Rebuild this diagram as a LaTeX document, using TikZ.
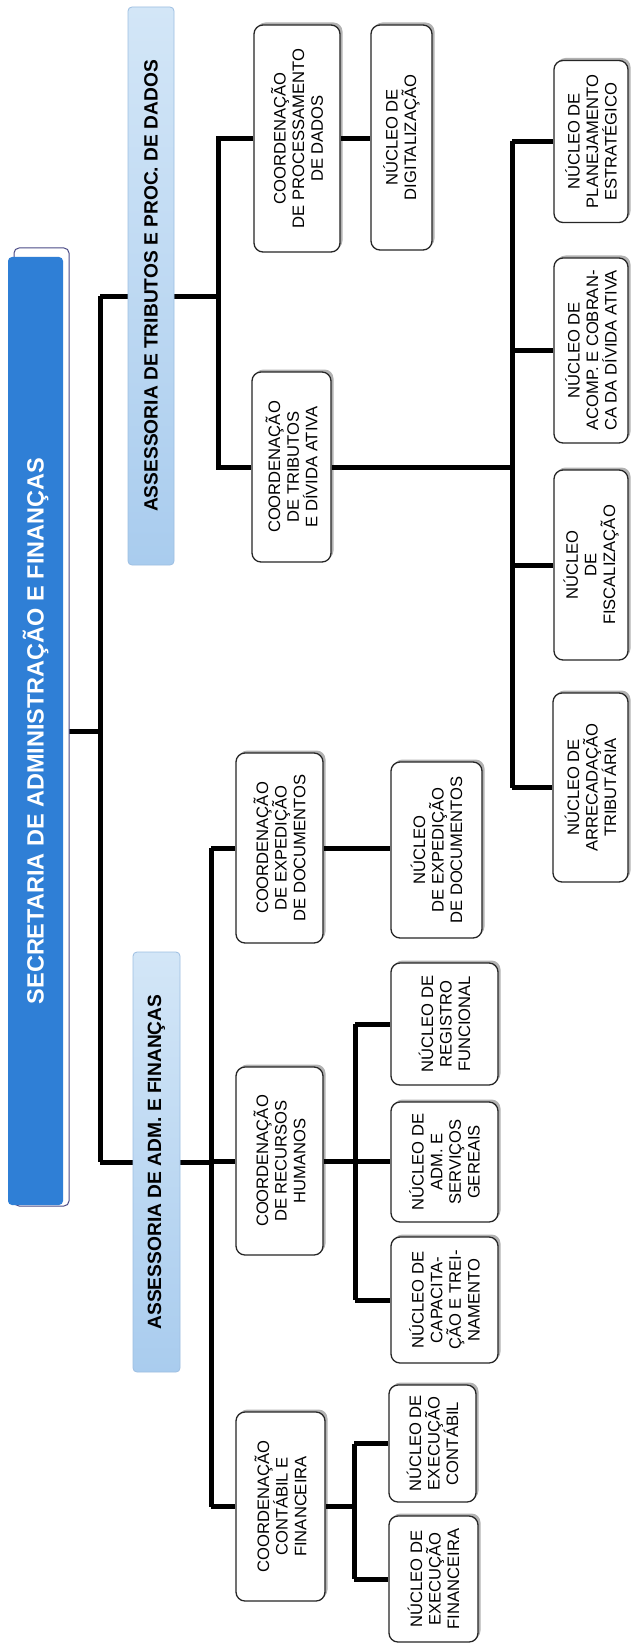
\documentclass[tikz,border=0pt]{standalone}
\usepackage{fontspec}
\setmainfont{Liberation Sans}
\usetikzlibrary{backgrounds,shadows}
\definecolor{titleblue}{HTML}{2F7FD6}
\definecolor{framecol}{HTML}{4A4A86}
\definecolor{assesslight}{HTML}{D3E6F7}
\definecolor{assessdark}{HTML}{A9CCEE}
\definecolor{assessedge}{HTML}{9DBFE2}
% banner lettering
\newcommand\bannerfont{\bfseries\fontsize{23.5}{27}\selectfont}
\begin{document}
\begin{tikzpicture}[x=1pt,y=-1pt,
  unit/.style={draw=black!85, line width=1.3pt, rounded corners=9pt, fill=white,
    rotate=90, align=center, inner sep=0pt,
    font=\fontsize{16.6}{18.6}\selectfont,
    drop shadow={shadow xshift=2.5pt, shadow yshift=2.5pt, fill=black, opacity=.3}},
  assess/.style={draw=assessedge, line width=.8pt, rounded corners=4pt,
    top color=assesslight, bottom color=assessdark,
    rotate=90, inner sep=0pt, font=\bfseries\fontsize{19.2}{22}\selectfont},
  titlebox/.style={fill=titleblue, rounded corners=4pt, text=white,
    rotate=90, inner sep=0pt, font=\bannerfont},
  conn/.style={line width=5pt, black, line join=miter}
]
\useasboundingbox (0,0) rectangle (631,1645);

% outline framing the head office banner
\draw[framecol, line width=1pt, fill=white, rounded corners=5pt] (14,248) rectangle (69,1206);
\node[titlebox, minimum width=948pt, minimum height=55pt] (title) at (35.5,731)
  {SECRETARIA DE ADMINISTRAÇÃO E FINANÇAS};

% advisory offices
\node[assess, minimum width=558pt, minimum height=46pt] (assTrib) at (151,286)
  {ASSESSORIA DE TRIBUTOS E PROC. DE DADOS};
\node[assess, minimum width=420pt, minimum height=47pt] (assAdm) at (156.5,1162)
  {ASSESSORIA DE ADM. E FINANÇAS};

% taxes and data processing branch
\node[unit, minimum width=227pt, minimum height=86pt] (cproc) at (297,138.5)
  {COORDENAÇÃO\\DE PROCESSAMENTO\\DE DADOS};
\node[unit, minimum width=225pt, minimum height=61pt] (ndig) at (401.5,137.5)
  {NÚCLEO DE\\DIGITALIZAÇÃO};
\node[unit, minimum width=190pt, minimum height=79pt] (ctrib) at (291.5,467)
  {COORDENAÇÃO\\DE TRIBUTOS\\E DÍVIDA ATIVA};
\node[unit, minimum width=162pt, minimum height=74pt] (nplan) at (591,141.5)
  {NÚCLEO DE\\PLANEJAMENTO\\ESTRATÉGICO};
\node[unit, minimum width=185pt, minimum height=74pt] (nacomp) at (591,350.5)
  {NÚCLEO DE\\ACOMP. E COBRAN-\\CA DA DÍVIDA ATIVA};
\node[unit, minimum width=190pt, minimum height=74pt] (nfisc) at (591,565)
  {NÚCLEO\\DE\\FISCALIZAÇÃO};
\node[unit, minimum width=189pt, minimum height=75pt] (narrec) at (590.5,787.5)
  {NÚCLEO DE\\ARRECADAÇÃO\\TRIBUTÁRIA};

% administration and finance branch
\node[unit, minimum width=190pt, minimum height=87pt] (cexp) at (279.5,848)
  {COORDENAÇÃO\\DE EXPEDIÇÃO\\DE DOCUMENTOS};
\node[unit, minimum width=176pt, minimum height=91pt] (nexp) at (436.5,850)
  {NÚCLEO\\DE EXPEDIÇÃO\\DE DOCUMENTOS};
\node[unit, minimum width=122pt, minimum height=107pt] (nreg) at (444.5,1024)
  {NÚCLEO DE\\REGISTRO\\FUNCIONAL};
\node[unit, minimum width=188pt, minimum height=87pt] (crh) at (279.5,1161)
  {COORDENAÇÃO\\DE RECURSOS\\HUMANOS};
\node[unit, minimum width=120pt, minimum height=107pt] (nadm) at (444.5,1162)
  {NÚCLEO DE\\ADM. E\\SERVIÇOS\\GEREAIS};
\node[unit, minimum width=126pt, minimum height=107pt] (ncap) at (444.5,1300)
  {NÚCLEO DE\\CAPACITA-\\ÇÃO E TREI-\\NAMENTO};
\node[unit, minimum width=189pt, minimum height=89pt] (ccont) at (280.5,1506.5)
  {COORDENAÇÃO\\CONTÁBIL E\\FINANCEIRA};
\node[unit, minimum width=117pt, minimum height=87pt] (nexc) at (432.5,1443.5)
  {NÚCLEO DE\\EXECUÇÃO\\CONTÁBIL};
\node[unit, minimum width=126pt, minimum height=89pt] (nexf) at (433.5,1579)
  {NÚCLEO DE\\EXECUÇÃO\\FINANCEIRA};

% trunk lines of the tree
\coordinate (tA) at (100,0);
\coordinate (tB) at (218,0);
\coordinate (tC) at (512,0);
\coordinate (tD) at (211,0);
\coordinate (tE) at (355,0);
\coordinate (tF) at (354,0);
\coordinate (jT) at (100,296);

\begin{scope}[on background layer]
  \fill[white] (0,0) rectangle (631,1645);
  % head office to both advisory offices
  \draw[conn] (title.south) -- (title.south -| tA);
  \draw[conn] (tA |- jT) -- (tA |- assAdm);
  \draw[conn] (jT) -- (jT -| tB);
  % taxes and data processing
  \draw[conn] (cproc.north) -| (ctrib.north -| tB) -- (ctrib.north);
  \draw[conn] (cproc.south) -- (cproc.south -| ndig.north);
  \draw[conn] (ctrib.south) -- (ctrib.south -| tC);
  \draw[conn] (tC |- nplan) -- (tC |- narrec);
  \draw[conn] (tC |- nplan) -- (nplan.north);
  \draw[conn] (tC |- nacomp) -- (nacomp.north);
  \draw[conn] (tC |- nfisc) -- (nfisc.north);
  \draw[conn] (tC |- narrec) -- (narrec.north);
  % administration and finance
  \draw[conn] (tA |- assAdm) -- (tD |- assAdm);
  \draw[conn] (tD |- cexp) -- (tD |- ccont);
  \draw[conn] (tD |- cexp) -- (cexp.north);
  \draw[conn] (tD |- crh) -- (crh.north);
  \draw[conn] (tD |- ccont) -- (ccont.north);
  \draw[conn] (cexp.south) -- (cexp.south -| nexp.north);
  \draw[conn] (crh.south) -- (crh.south -| nadm.north);
  \draw[conn] (tE |- nreg) -- (tE |- ncap);
  \draw[conn] (tE |- nreg) -- (nreg.north);
  \draw[conn] (tE |- ncap) -- (ncap.north);
  \draw[conn] (ccont.south) -- (ccont.south -| tF);
  \draw[conn] (tF |- nexc) -- (tF |- nexf);
  \draw[conn] (tF |- nexc) -- (nexc.north);
  \draw[conn] (tF |- nexf) -- (nexf.north);
\end{scope}
\end{tikzpicture}
\end{document}
